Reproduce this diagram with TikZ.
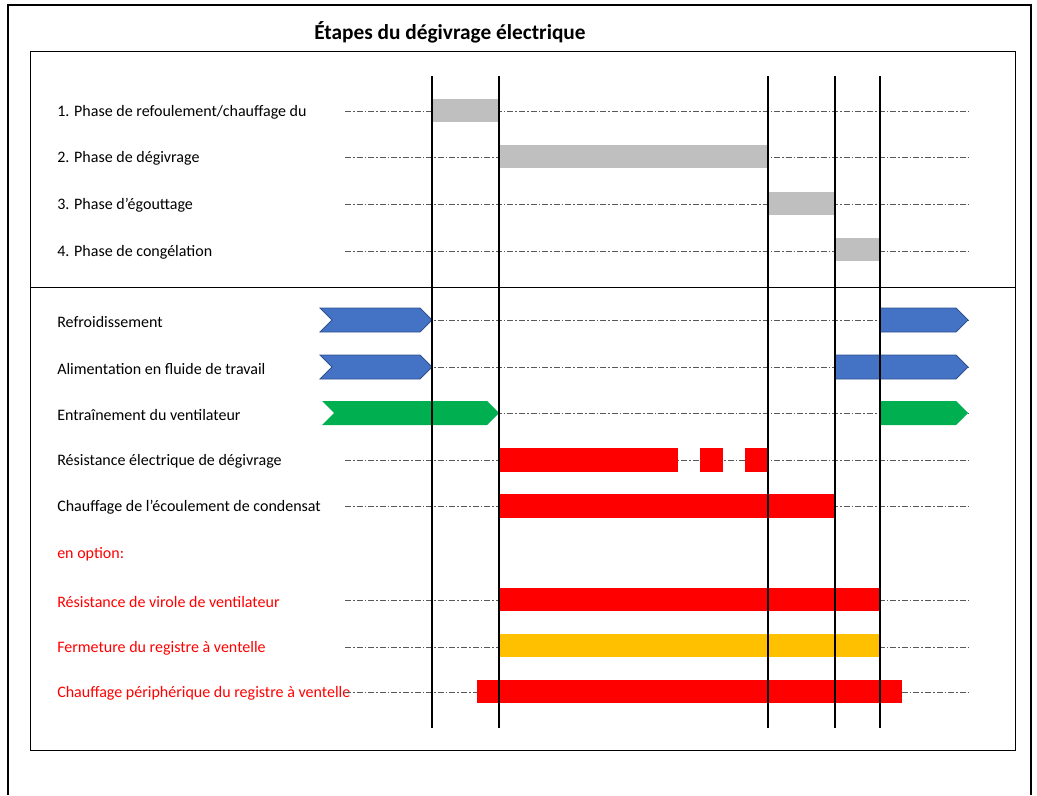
\documentclass[tikz,border=0pt]{standalone}
\usepackage{fontspec}
\setmainfont{Carlito}
\usetikzlibrary{positioning}
\definecolor{Bar}{HTML}{BFBFBF}
\definecolor{Cool}{HTML}{4472C4}
\definecolor{CoolEdge}{HTML}{2F528F}
\definecolor{Fan}{HTML}{00B050}
\definecolor{Heat}{HTML}{FF0000}
\definecolor{Damper}{HTML}{FFC000}
\definecolor{Guide}{HTML}{595959}
\tikzset{
  outer/.style={draw=black,line width=1.1pt},
  frame/.style={draw=black,line width=.75pt},
  stage/.style={draw=black,line width=1.1pt},
  guide/.style={draw=Guide,line width=.5pt,dash pattern=on 4.5pt off 1.5pt on 1.2pt off 1.5pt},
  title/.style={font=\fontsize{16}{19}\selectfont\bfseries,inner sep=0pt},
  lbl/.style={anchor=west,inner sep=0pt,yshift=-1.2pt,font=\fontsize{12}{14}\selectfont},
  optlbl/.style={lbl,text=Heat},
  phase/.style={fill=Bar},
  cool/.style={fill=Cool,draw=CoolEdge,line width=.6pt},
  fan/.style={fill=Fan},
  heat/.style={fill=Heat},
  damper/.style={fill=Damper}
}
% notched arrow and plain arrow: {x from}{x to}{y}{style}
\newcommand\notched[4]{\path[#4] (#1,#3-12) -- (#2-12,#3-12) -- (#2,#3) -- (#2-12,#3+12) -- (#1,#3+12) -- (#1+12,#3) -- cycle;}
\newcommand\plate[4]{\path[#4] (#1,#3-12) -- (#2-12,#3-12) -- (#2,#3) -- (#2-12,#3+12) -- (#1,#3+12) -- cycle;}

\begin{document}
\begin{tikzpicture}[x=.75pt,y=-.75pt]
  \useasboundingbox (0,0) rectangle (1037,795);
  \draw[outer] (8,795) -- (8,5) -- (1031,5) -- (1031,795);
  \draw[frame] (30,52) rectangle (1015,750);
  \draw[frame] (30,287) -- (1015,287);
  \node[title] (ttl) at (450,32) {Étapes du dégivrage électrique};

  % phases
  \node[lbl] (ph1) at (57,111) {1. Phase de refoulement/chauffage du};
  \node[lbl] (ph2) at (57,157) {2. Phase de dégivrage};
  \node[lbl] (ph3) at (57,204) {3. Phase d’égouttage};
  \node[lbl] (ph4) at (57,251) {4. Phase de congélation};

  % equipment
  \node[lbl] (cool) at (57,320) {Refroidissement};
  \node[lbl] (feed) at (57,367) {Alimentation en fluide de travail};
  \node[lbl] (fan) at (57,413) {Entraînement du ventilateur};
  \node[lbl] (res) at (57,460) {Résistance électrique de dégivrage};
  \node[lbl] (drain) at (57,506) {Chauffage de l’écoulement de condensat};
  \node[optlbl] (opt) at (57,553) {en option:};
  \node[optlbl] (ring) at (57,600) {Résistance de virole de ventilateur};
  \node[optlbl] (shut) at (57,647) {Fermeture du registre à ventelle};
  \node[optlbl] (rim) at (57,692) {Chauffage périphérique du registre à ventelle};

  \foreach \y in {111,157,204,251,320,367,413,460,506,600,647,692}
    \draw[guide] (345,\y) -- (970,\y);

  \fill[phase] (432,99) rectangle (499,122);
  \fill[phase] (499,145) rectangle (768,168);
  \fill[phase] (768,192) rectangle (835,215);
  \fill[phase] (835,238) rectangle (880,261);

  \notched{320}{432}{320}{cool}
  \plate{880}{968}{320}{cool}
  \notched{320}{432}{367}{cool}
  \plate{835}{968}{367}{cool}
  \notched{322}{499}{413}{fan}
  \plate{880}{968}{413}{fan}

  \fill[heat] (499,448) rectangle (678,472);
  \fill[heat] (700,448) rectangle (723,472);
  \fill[heat] (745,448) rectangle (768,472);
  \fill[heat] (499,494) rectangle (835,518);
  \fill[heat] (499,588) rectangle (880,611);
  \fill[damper] (499,634) rectangle (880,657);
  \fill[heat] (477,680) rectangle (902,703);

  \foreach \x in {432,499,768,835,880}
    \draw[stage] (\x,76) -- (\x,728);
\end{tikzpicture}
\end{document}
